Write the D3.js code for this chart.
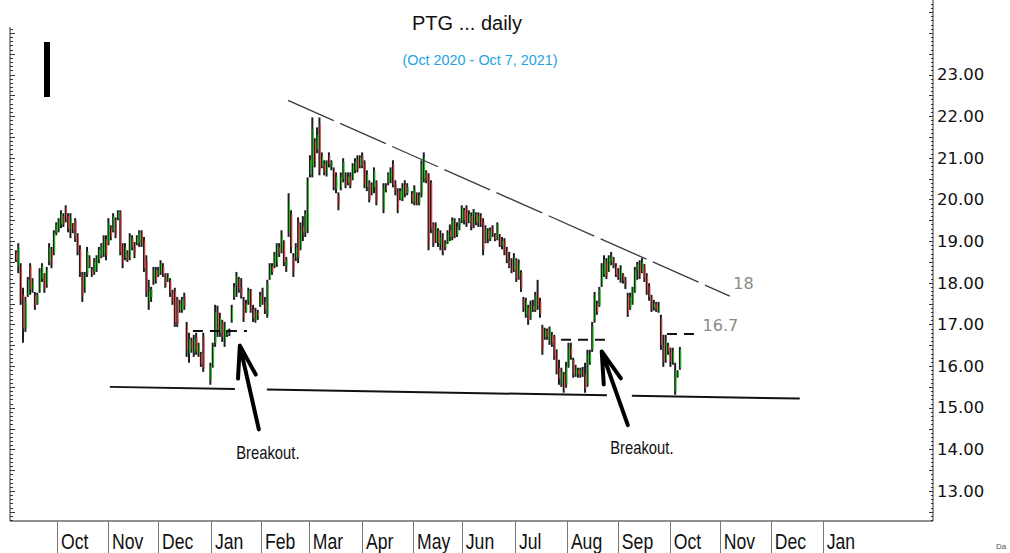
<!DOCTYPE html>
<html>
<head>
<meta charset="utf-8">
<script src="https://cdn.jsdelivr.net/npm/d3@7"></script>
<style>
    body { margin: 0; background: #fff; }
    svg { display: block; }
</style>
</head>
<body>
<svg id="chart" width="1010" height="553"></svg>
<script>
// daily bars, one per trading slot (null = no trading)
const highs = [
    18.78, 18.95, 18.47, 17.88, 17.66, 18.14, 18.47, 18.11, 17.78, 17.76,
    18.35, 18.47, 18.23, 18.38, 18.95, 18.86, 19.26, 19.45, 19.55, 19.74,
    19.67, 19.86, 19.67, 19.67, 19.43, 19.55, 19.19, 18.90, 18.26, 18.26,
    18.86, 18.66, 18.38, 18.59, 18.66, 18.86, 18.95, 19.14, 19.14, 19.55,
    19.38, 19.67, 19.57, 19.74, 19.74, 18.95, 18.95, 18.78, 19.19, 19.14,
    18.98, 19.14, 19.26, 19.26, 19.10, 18.66, 18.07, 17.90, 18.38, 18.38,
    18.38, 18.54, 18.47, 18.23, 18.23, 18.11, 17.83,
    17.88, 17.66, 17.59, 17.66, 17.76, 17.06, 16.80, 16.68, 16.75, 16.80, 16.56, 16.34, 16.80,
    null, null,
    16.08, 16.56, 17.47, 17.45, 17.28, 17.11, 17.06, 16.87,
    16.90, 17.47, 17.99, 18.26, 18.14, 18.11, 17.66, 17.59, 17.88, 17.85,
    17.47, 17.40, 17.35, 17.78, 17.88, 17.66, 18.07, 18.47, 18.47, 18.74,
    18.95, 18.95, 19.26, 19.02, 18.62, 20.15, 19.74, 18.71, 18.95, 19.57,
    19.45, 19.60, 19.74, 20.53, 21.06, 21.97, 21.47, 21.73, 21.97, 21.13,
    20.94, 20.94, 21.13, 20.94, 20.77, 20.65, 20.17, 20.65,
    20.99, 20.65, 20.65, 20.65, 20.87, 20.99, 21.06, 21.06, 21.13, 20.94, 20.70, 20.46,
    20.41, 20.77, 20.46,
    null, null,
    20.39, 20.39, 20.65, 20.77, 20.94, 20.46, 20.27, 20.27, 20.39, 20.46, 20.39,
    null,
    20.20, 20.34, 20.17, 20.17, 20.94, 21.13, 20.70, 20.63, 20.46, 19.45, 19.45, 19.31, 19.26,
    19.19, 19.02, 19.26, 19.40, 19.57, 19.55, 19.45, 19.55, 19.86, 19.80,
    19.86, 19.74, 19.69, 19.77, 19.69, 19.69, 19.67, 19.55, 19.38, 19.31,
    19.33, 19.38, 19.19, 19.45, 19.17, 19.10, 19.07, 18.86, 18.74, 18.59,
    18.71, 18.59, 18.56, 18.30, 17.66, 17.64, 17.47, 17.57, 17.59, 17.78,
    18.07, 17.64, 16.99, 16.92, 16.90, 16.95, 16.82, 16.75, 16.40, 16.15,
    15.96, 15.86, 16.10, 16.56, 16.56, 16.20, 16.03, 15.96, 15.96, 15.98,
    16.08, 16.39, 16.39, 17.06, 17.78, 17.57, 17.90, 18.47, 18.66, 18.59,
    18.66, 18.74, 18.62, 18.47, 18.35, 18.42, 18.23, 18.14, 17.76, 17.76,
    17.90, 18.38, 18.50, 18.54, 18.59, 18.45, 18.23, 17.99, 17.71, 17.59,
    17.54, 17.54, 17.23, 16.75, 16.75, 16.56, 16.44, 16.44, 16.08, 15.90, 16.46
];
const lows = [
    18.50, 18.23, 17.47, 16.56, 16.82, 17.66, 17.71, 17.76, 17.35, 17.47,
    17.76, 18.02, 17.76, 17.88, 18.42, 18.35, 18.66, 19.14, 19.21, 19.31,
    19.34, 19.45, 19.21, 19.07, 19.19, 18.98, 18.66, 18.14, 17.54, 17.76,
    18.14, 18.35, 18.14, 18.19, 18.26, 18.47, 18.59, 18.62, 18.54, 18.90,
    19.02, 19.21, 19.07, 19.50, 18.66, 18.35, 18.54, 18.50, 18.54, 18.78,
    18.59, 18.90, 18.86, 18.86, 18.26, 17.66, 17.35, 17.54, 17.95, 17.98,
    18.14, 18.19, 18.14, 17.88, 18.02, 17.66, 17.47,
    16.94, 16.94, 17.28, 17.28, 17.35, 16.22, 16.08, 16.32, 16.22, 16.27, 16.22, 15.98, 15.86,
    null, null,
    15.55, 15.96, 16.46, 16.70, 16.70, 16.58, 16.46, 16.70,
    16.72, 17.04, 17.59, 17.66, 17.76, 17.62, 17.06, 17.28, 17.47, 17.28,
    17.06, 17.04, 17.11, 17.42, 17.47, 17.25, 17.16, 18.07, 18.19, 18.35,
    18.38, 18.62, 18.71, 18.40, 18.26, 19.10, 18.71, 18.14, 18.52, 18.47,
    18.78, 19.00, 19.10, 19.19, 20.53, 20.53, 20.77, 21.11, 20.58, 20.75,
    20.58, 20.55, 20.77, 20.70, 20.22, 20.15, 19.74, 20.22,
    20.41, 20.27, 20.34, 20.27, 20.46, 20.63, 20.65, 20.75, 20.75, 20.27, 20.20, 19.93,
    20.10, 20.15, 19.86,
    null, null,
    19.67, 20.17, 20.34, 20.39, 20.29, 20.10, 19.67, 19.98, 19.96, 20.05, 20.10,
    null,
    19.90, 19.86, 19.86, 19.86, 20.05, 20.41, 20.39, 18.78, 19.19, 18.86, 18.95, 18.86, 18.78,
    18.66, 18.78, 18.93, 19.00, 19.02, 19.07, 19.10, 19.26, 19.43, 19.40,
    19.34, 19.43, 19.26, 19.31, 19.38, 19.34, 19.34, 18.66, 18.95, 18.95,
    19.00, 19.10, 19.00, 19.02, 18.86, 18.80, 18.66, 18.47, 18.35, 18.23,
    18.26, 18.02, 18.07, 17.78, 17.30, 17.16, 16.99, 17.11, 17.30, 17.30,
    17.35, 17.16, 16.27, 16.63, 16.63, 16.51, 16.46, 16.15, 15.80, 15.55,
    15.50, 15.36, 15.48, 15.96, 16.15, 15.72, 15.74, 15.72, 15.72, 15.74,
    15.36, 15.50, 16.03, 16.34, 17.04, 17.23, 17.42, 17.90, 18.14, 18.09,
    18.26, 18.42, 18.35, 18.14, 18.07, 18.00, 17.98, 17.85, 17.18, 17.35,
    17.47, 17.76, 18.07, 18.09, 18.23, 18.02, 17.71, 17.57, 17.30, 17.33,
    17.30, 17.28, 16.39, 15.98, 16.08, 16.27, 15.98, 16.03, 15.31, 15.72, 15.91
];
const opens = [
    18.72, 18.40, 18.40, 17.70, 16.90, 17.70, 18.40, 17.85, 17.70, 17.50,
    17.80, 18.10, 18.20, 17.95, 18.50, 18.80, 18.70, 19.20, 19.30, 19.40,
    19.60, 19.80, 19.60, 19.30, 19.40, 19.50, 19.10, 18.80, 18.20, 17.85,
    18.20, 18.60, 18.30, 18.25, 18.35, 18.55, 18.65, 18.70, 19.05, 18.95,
    19.30, 19.25, 19.50, 19.55, 19.70, 18.90, 18.60, 18.70, 18.60, 19.05,
    18.90, 18.95, 18.95, 19.20, 19.00, 18.50, 17.55, 17.65, 18.05, 18.30,
    18.20, 18.25, 18.40, 18.20, 18.05, 18.05, 17.75,
    17.80, 17.60, 17.35, 17.35, 17.65, 16.95, 16.30, 16.60, 16.35, 16.70, 16.30, 16.30, 16.70,
    null, null,
    15.65, 16.00, 16.55, 17.30, 16.80, 17.05, 16.60, 16.75,
    16.80, 17.10, 17.65, 17.95, 18.10, 17.90, 17.55, 17.30, 17.55, 17.80,
    17.35, 17.10, 17.30, 17.45, 17.70, 17.55, 17.25, 18.10, 18.40, 18.40,
    18.50, 18.85, 18.75, 19.00, 18.40, 19.20, 19.65, 18.60, 18.60, 19.45,
    18.85, 19.35, 19.20, 19.30, 20.60, 20.80, 21.40, 21.20, 21.80, 20.80,
    20.85, 20.65, 21.05, 20.80, 20.70, 20.25, 20.10, 20.30,
    20.50, 20.60, 20.40, 20.55, 20.50, 20.70, 20.95, 20.80, 21.05, 20.85, 20.30, 20.40,
    20.15, 20.30, 20.40,
    null, null,
    19.75, 20.30, 20.40, 20.50, 20.85, 20.35, 20.20, 20.00, 20.05, 20.35, 20.15,
    null,
    20.15, 19.95, 20.15, 19.90, 20.10, 20.50, 20.65, 20.55, 20.40, 19.40, 19.00, 19.25, 18.90,
    19.10, 18.85, 18.95, 19.25, 19.10, 19.45, 19.15, 19.35, 19.50, 19.75,
    19.80, 19.45, 19.60, 19.40, 19.65, 19.45, 19.60, 19.45, 19.00, 19.25,
    19.05, 19.30, 19.15, 19.05, 19.15, 18.90, 19.00, 18.80, 18.55, 18.40,
    18.30, 18.55, 18.15, 18.25, 17.60, 17.25, 17.40, 17.15, 17.45, 17.35,
    17.75, 17.55, 16.90, 16.70, 16.85, 16.60, 16.75, 16.70, 16.30, 15.95,
    15.60, 15.80, 15.55, 16.00, 16.45, 16.15, 15.80, 15.90, 15.80, 15.90,
    15.80, 15.55, 16.10, 16.40, 17.10, 17.50, 17.45, 17.95, 18.20, 18.50,
    18.30, 18.50, 18.60, 18.40, 18.20, 18.10, 18.20, 18.05, 17.70, 17.40,
    17.55, 17.80, 18.30, 18.45, 18.25, 18.40, 18.15, 17.90, 17.65, 17.40,
    17.50, 17.35, 17.15, 16.50, 16.15, 16.50, 16.35, 16.10, 15.40, 15.75, 15.95
];
const closes = [
    18.55, 18.85, 17.60, 16.90, 17.55, 18.05, 17.85, 18.00, 17.45, 17.70,
    18.25, 18.40, 17.85, 18.30, 18.85, 18.45, 19.20, 19.40, 19.50, 19.65,
    19.40, 19.55, 19.30, 19.55, 19.25, 19.05, 18.75, 18.25, 17.70, 18.15,
    18.75, 18.40, 18.20, 18.50, 18.60, 18.80, 18.90, 19.05, 18.65, 19.45,
    19.10, 19.60, 19.15, 19.70, 18.75, 18.45, 18.85, 18.55, 19.10, 18.85,
    18.70, 19.10, 19.20, 18.95, 18.35, 17.75, 17.80, 17.85, 18.30, 18.05,
    18.30, 18.45, 18.20, 17.95, 18.15, 17.75, 17.55,
    17.05, 17.00, 17.50, 17.60, 17.45, 16.40, 16.65, 16.40, 16.65, 16.35, 16.50, 16.05, 15.95,
    null, null,
    16.00, 16.45, 17.30, 16.85, 17.15, 16.70, 16.95, 16.80,
    16.85, 17.40, 17.90, 18.15, 17.85, 17.70, 17.15, 17.50, 17.80, 17.35,
    17.15, 17.30, 17.20, 17.70, 17.55, 17.35, 18.00, 18.40, 18.25, 18.65,
    18.90, 18.70, 19.15, 18.50, 18.55, 19.95, 18.85, 18.30, 18.85, 18.60,
    19.30, 19.20, 19.65, 20.45, 20.95, 21.70, 20.90, 21.55, 20.70, 21.05,
    20.65, 20.85, 20.85, 20.90, 20.30, 20.55, 19.85, 20.55,
    20.90, 20.35, 20.55, 20.35, 20.80, 20.90, 20.70, 21.00, 20.80, 20.35, 20.60, 20.00,
    20.35, 20.70, 19.95,
    null, null,
    20.30, 20.25, 20.60, 20.70, 20.35, 20.20, 19.75, 20.20, 20.30, 20.15, 20.30,
    null,
    19.95, 20.25, 19.90, 20.10, 20.85, 21.00, 20.45, 18.90, 19.30, 18.95, 19.35, 18.95, 19.10,
    18.75, 18.95, 19.20, 19.10, 19.50, 19.15, 19.35, 19.50, 19.80, 19.50,
    19.45, 19.65, 19.35, 19.70, 19.45, 19.60, 19.40, 18.80, 19.30, 19.05,
    19.25, 19.20, 19.05, 19.40, 18.90, 19.00, 18.75, 18.55, 18.40, 18.30,
    18.60, 18.10, 18.45, 17.85, 17.40, 17.55, 17.10, 17.45, 17.35, 17.70,
    17.45, 17.25, 16.40, 16.85, 16.70, 16.90, 16.55, 16.25, 15.90, 15.70,
    15.85, 15.45, 16.00, 16.45, 16.25, 15.80, 15.95, 15.80, 15.90, 15.80,
    15.45, 16.30, 16.30, 16.95, 17.70, 17.30, 17.85, 18.40, 18.55, 18.15,
    18.60, 18.65, 18.40, 18.20, 18.15, 18.35, 18.05, 17.95, 17.25, 17.65,
    17.85, 18.30, 18.45, 18.15, 18.50, 18.10, 17.80, 17.65, 17.40, 17.50,
    17.35, 17.45, 16.50, 16.10, 16.60, 16.35, 16.10, 16.35, 15.90, 15.85, 16.40
];

// month boundaries, in bar slots
const monthLabels = ['Oct', 'Nov', 'Dec', 'Jan', 'Feb', 'Mar', 'Apr', 'May', 'Jun', 'Jul', 'Aug', 'Sep', 'Oct', 'Nov', 'Dec', 'Jan'];
const monthStarts = [17.3, 38.8, 59.9, 82.2, 103.3, 123.5, 145.9, 167.4, 188.0, 210.4, 232.3, 253.8, 275.7, 296.8, 318.3, 340.2];
const priceTicks = [13, 14, 15, 16, 17, 18, 19, 20, 21, 22, 23];

// hand drawn annotations, [slot, price]
const resistanceLine = [[114.7, 22.38], [301.0, 17.68]];
const supportLine = [[39.6, 15.50], [330.5, 15.22]];
const supportGaps = [[92.3, 105.8], [249.2, 259.7]];
const breakoutLevels = [
    { from: 74.6, to: 97.4, price: 16.84 },
    { from: 229.8, to: 249.2, price: 16.63 },
    { from: 274.5, to: 287.1, price: 16.77 }
];
const levelLabels = [
    { text: '18', slot: 302.5, price: 17.85 },
    { text: '16.7', slot: 289.5, price: 16.85 }
];
const arrows = [
    { tip: [94.4, 16.49], tail: [102.4, 14.48], label: [106.2, 13.94] },
    { tip: [247.0, 16.35], tail: [258.0, 14.58], label: [263.9, 14.06] }
];

const svg = d3.select('#chart');
const plotLeft = 10, plotRight = 933, plotBottom = 521;
const NARROW = 'Liberation Sans Narrow, Arial Narrow, Liberation Sans, Arial, sans-serif';

let x = d3.scaleLinear().domain([0, highs.length - 1]).range([16, 680]);
let y = d3.scaleLinear().domain([13, 23]).range([491, 74.5]);

// condensed text: no narrow face installed, so squeeze horizontally
function narrowText(parent, px, py, str, size, anchor) {
    return parent.append('text')
        .attr('transform', `translate(${px},${py}) scale(0.8,1)`)
        .attr('text-anchor', anchor || 'start')
        .style('font-family', NARROW)
        .style('font-size', size + 'px')
        .attr('fill', '#111')
        .text(str);
}

function drawTitle() {
    svg.append('text')
        .attr('x', 467).attr('y', 30)
        .attr('text-anchor', 'middle')
        .style('font-family', 'Liberation Sans, Arial, sans-serif')
        .style('font-size', '20px')
        .attr('fill', '#111')
        .text('PTG ... daily');
    svg.append('text')
        .attr('x', 480).attr('y', 65)
        .attr('text-anchor', 'middle')
        .style('font-family', 'Liberation Sans, Arial, sans-serif')
        .style('font-size', '14.4px')
        .attr('fill', '#1fa3e3')
        .text('(Oct 2020 - Oct 7, 2021)');
    // cursor-like marker in the top left
    svg.append('rect')
        .attr('x', 44).attr('y', 42)
        .attr('width', 6).attr('height', 55)
        .attr('fill', '#000');
}

function drawAxes() {
    let frame = svg.append('g').attr('id', 'frame-g');
    frame.append('line')
        .attr('x1', plotLeft).attr('x2', plotLeft)
        .attr('y1', 27).attr('y2', plotBottom)
        .attr('stroke', '#333');
    frame.append('line')
        .attr('x1', plotRight).attr('x2', plotRight)
        .attr('y1', 0).attr('y2', plotBottom)
        .attr('stroke', '#333');
    frame.append('line')
        .attr('x1', plotLeft).attr('x2', plotRight)
        .attr('y1', plotBottom).attr('y2', plotBottom)
        .attr('stroke', '#222');

    // minor ticks every 0.1, longer every 0.5
    let minor = d3.range(123, 248).map(v => v / 10);
    minor.forEach(v => {
        let yy = Math.round(y(v)) + 0.5;
        let major = Math.round(v * 10) % 5 == 0;
        if (yy > 28) {
            frame.append('line')
                .attr('x1', plotLeft).attr('x2', plotLeft + (major ? 5 : 3))
                .attr('y1', yy).attr('y2', yy)
                .attr('stroke', '#333');
        }
        frame.append('line')
            .attr('x1', plotRight - (major ? 4 : 2)).attr('x2', plotRight)
            .attr('y1', yy).attr('y2', yy)
            .attr('stroke', '#333');
    });

    let yAxis = svg.append('g')
        .attr('transform', `translate(${plotRight},0)`)
        .call(d3.axisRight(y).tickValues(priceTicks).tickFormat(d3.format('.2f')).tickSize(0).tickPadding(4));
    yAxis.select('.domain').remove();
    yAxis.selectAll('text')
        .style('font-family', 'DejaVu Sans, sans-serif')
        .style('font-size', '16.5px')
        .attr('fill', '#111');

    let months = svg.append('g').attr('id', 'month-g');
    months.selectAll('line')
        .data(monthStarts)
        .enter()
        .append('line')
        .attr('x1', d => Math.round(x(d)) + 0.5)
        .attr('x2', d => Math.round(x(d)) + 0.5)
        .attr('y1', plotBottom)
        .attr('y2', 553)
        .attr('stroke', '#777');
    monthStarts.forEach((d, i) => narrowText(months, x(d) + 4, 549, monthLabels[i], 22));

    svg.append('text')
        .attr('x', 996).attr('y', 549)
        .style('font-family', 'Liberation Sans, sans-serif')
        .style('font-size', '8px')
        .attr('fill', '#555')
        .text('Da');
}

function drawBars() {
    let bars = highs.map((h, i) => ({ i, h, l: lows[i], o: opens[i], c: closes[i] }))
        .filter(d => d.h != null);

    let g = svg.append('g').attr('id', 'bar-g');
    g.selectAll('.hl')
        .data(bars)
        .enter()
        .append('rect')
        .classed('hl', true)
        .attr('x', d => x(d.i) - 1.1)
        .attr('width', 2)
        .attr('y', d => y(d.h))
        .attr('height', d => Math.max(1, y(d.l) - y(d.h)))
        .attr('fill', '#1e1e1e');
    g.selectAll('.oc')
        .data(bars)
        .enter()
        .append('rect')
        .classed('oc', true)
        .attr('x', d => x(d.i) + 0.2)
        .attr('width', 1.1)
        .attr('y', d => y(Math.max(d.o, d.c)))
        .attr('height', d => Math.max(1, Math.abs(y(d.o) - y(d.c))))
        .attr('fill', d => d.c >= d.o ? '#19c819' : '#ea4a4a');
}

function drawAnnotations() {
    let g = svg.append('g').attr('id', 'annotation-g');
    let line = d3.line().x(d => x(d[0])).y(d => y(d[1]));

    g.append('path')
        .attr('d', line(resistanceLine))
        .attr('fill', 'none')
        .attr('stroke', '#3a3a3a')
        .attr('stroke-width', 1.3)
        .attr('stroke-dasharray', '50,7');

    // support line, broken where the arrows cross it
    let [p0, p1] = supportLine;
    let priceAt = s => p0[1] + (p1[1] - p0[1]) * (s - p0[0]) / (p1[0] - p0[0]);
    let cuts = [p0[0]];
    supportGaps.forEach(gp => cuts.push(gp[0], gp[1]));
    cuts.push(p1[0]);
    for (let k = 0; k < cuts.length; k += 2) {
        g.append('path')
            .attr('d', line([[cuts[k], priceAt(cuts[k])], [cuts[k + 1], priceAt(cuts[k + 1])]]))
            .attr('fill', 'none')
            .attr('stroke', '#111')
            .attr('stroke-width', 2);
    }

    breakoutLevels.forEach(lv => {
        g.append('path')
            .attr('d', line([[lv.from, lv.price], [lv.to, lv.price]]))
            .attr('fill', 'none')
            .attr('stroke', '#111')
            .attr('stroke-width', 2)
            .attr('stroke-dasharray', '10,7');
    });

    g.selectAll('.level-label')
        .data(levelLabels)
        .enter()
        .append('text')
        .classed('level-label', true)
        .attr('x', d => x(d.slot))
        .attr('y', d => y(d.price))
        .style('font-family', 'DejaVu Sans, sans-serif')
        .style('font-size', '16px')
        .attr('fill', '#8a8a8a')
        .text(d => d.text);

    arrows.forEach(a => {
        let tx = x(a.tip[0]), ty = y(a.tip[1]);
        let bx = x(a.tail[0]), by = y(a.tail[1]);
        let ang = Math.atan2(by - ty, bx - tx);
        let wing = 33, spread = 16 * Math.PI / 180;
        let path = d3.path();
        path.moveTo(bx, by);
        path.lineTo(tx, ty);
        path.moveTo(tx + wing * Math.cos(ang + spread), ty + wing * Math.sin(ang + spread));
        path.lineTo(tx, ty);
        path.lineTo(tx + wing * Math.cos(ang - spread), ty + wing * Math.sin(ang - spread));
        g.append('path')
            .attr('d', path.toString())
            .attr('fill', 'none')
            .attr('stroke', '#000')
            .attr('stroke-width', 4)
            .attr('stroke-linecap', 'round')
            .attr('stroke-linejoin', 'round');

        narrowText(g, x(a.label[0]), y(a.label[1]) + 7, 'Breakout.', 18.5, 'middle');
    });
}

drawTitle();
drawAxes();
drawBars();
drawAnnotations();
</script>
</body>
</html>
